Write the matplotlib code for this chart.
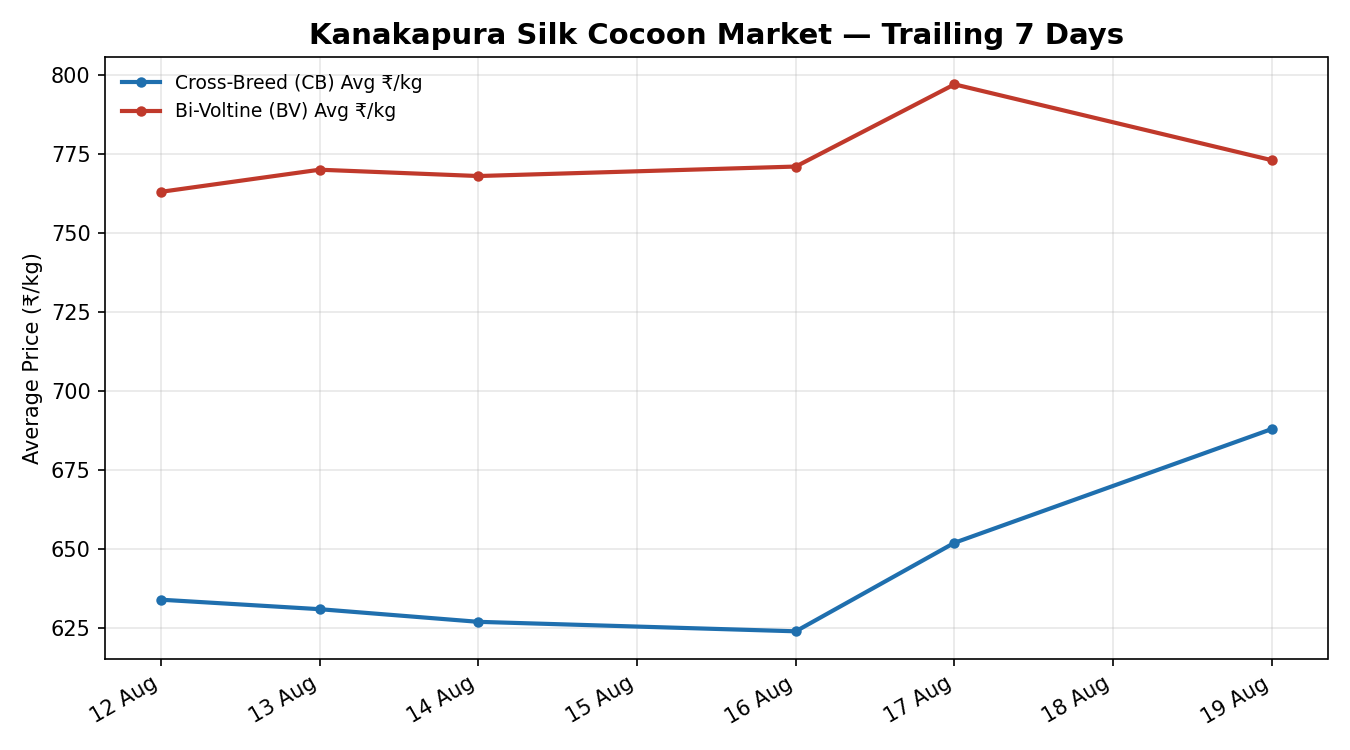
import numpy as np
import pandas as pd
import matplotlib
matplotlib.use("Agg")
import matplotlib.pyplot as plt
import matplotlib.dates as mdates

dates = pd.to_datetime(["2024-08-12", "2024-08-13", "2024-08-14",
                        "2024-08-16", "2024-08-17", "2024-08-19"])
cb_avg = [634, 631, 627, 624, 652, 688]
bv_avg = [763, 770, 768, 771, 797, 773]

fig, ax = plt.subplots(figsize=(9, 5), dpi=150)
ax.plot(dates, cb_avg, color="#1f6fae", lw=2, marker="o", ms=4,
        label="Cross-Breed (CB) Avg ₹/kg")
ax.plot(dates, bv_avg, color="#c0392b", lw=2, marker="o", ms=4,
        label="Bi-Voltine (BV) Avg ₹/kg")

ax.set_title("Kanakapura Silk Cocoon Market — Trailing 7 Days",
             fontsize=14, fontweight="bold")
ax.set_ylabel("Average Price (₹/kg)")
ax.set_yticks(np.arange(625, 801, 25))
ax.xaxis.set_major_locator(mdates.DayLocator())
ax.xaxis.set_major_formatter(mdates.DateFormatter("%d %b"))
ax.grid(True, alpha=0.3)
ax.legend(loc="upper left", frameon=False, fontsize=9)
fig.autofmt_xdate()
fig.tight_layout()
fig.savefig("out.png")
